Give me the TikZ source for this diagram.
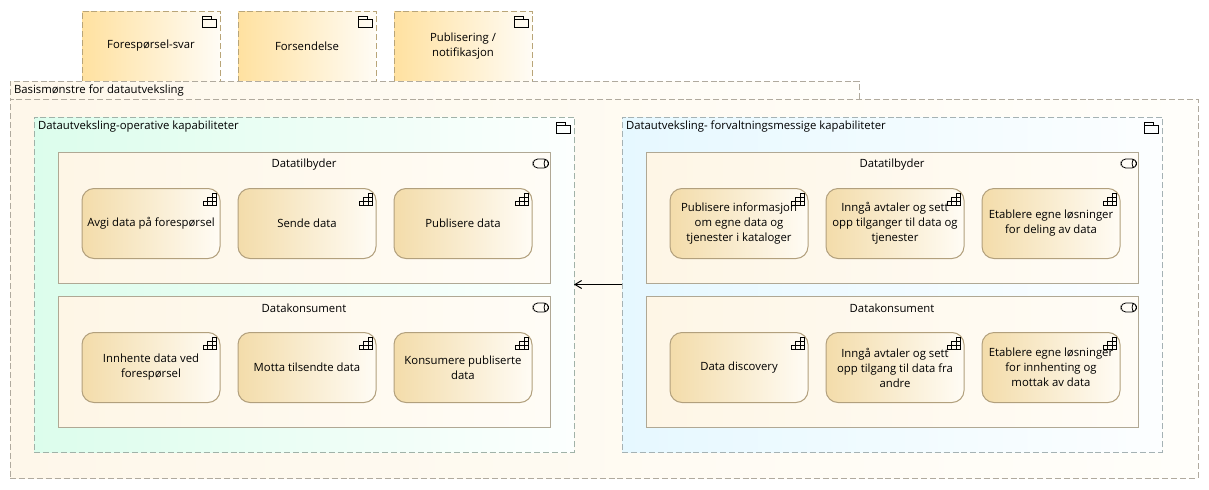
\documentclass[tikz,border=0pt]{standalone}
\usepackage{fontspec}
\setmainfont{Open Sans}
\usetikzlibrary{arrows.meta}

\definecolor{pkgleft}{RGB}{255,225,160}
\definecolor{pkgright}{RGB}{255,252,245}
\definecolor{pkgline}{RGB}{185,165,120}
\definecolor{capleft}{RGB}{243,220,170}
\definecolor{capright}{RGB}{255,252,245}
\definecolor{capline}{RGB}{178,160,125}
\definecolor{roleleft}{RGB}{254,246,230}
\definecolor{roleright}{RGB}{255,252,246}
\definecolor{roleline}{RGB}{176,168,148}
\definecolor{baseleft}{RGB}{254,247,234}
\definecolor{baseright}{RGB}{255,254,250}
\definecolor{baseline}{RGB}{176,170,158}
\definecolor{greenleft}{RGB}{220,253,236}
\definecolor{greenright}{RGB}{252,255,254}
\definecolor{greenline}{RGB}{160,178,168}
\definecolor{blueleft}{RGB}{230,248,255}
\definecolor{blueright}{RGB}{252,254,255}
\definecolor{blueline}{RGB}{165,178,180}

\tikzset{
  every node/.style={font=\fontsize{8.5}{11.2}\selectfont,inner sep=0pt,outer sep=0pt,align=center,text=black},
  every pic/.style={yscale=-1},
  dashline/.style={line width=0.75pt,dash pattern=on 4.5pt off 2.2pt},
  pkgbox/.style={dashline,draw=pkgline,left color=pkgleft,right color=pkgright,minimum width=103.5pt,minimum height=52.5pt},
  basebox/.style={dashline,draw=baseline,left color=baseleft,right color=baseright},
  greenbox/.style={dashline,draw=greenline,left color=greenleft,right color=greenright,minimum width=405pt,minimum height=251.25pt},
  bluebox/.style={dashline,draw=blueline,left color=blueleft,right color=blueright,minimum width=405pt,minimum height=251.25pt},
  rolebox/.style={line width=0.75pt,draw=roleline,left color=roleleft,right color=roleright,minimum width=369pt,minimum height=98.25pt},
  capbox/.style={line width=0.75pt,draw=capline,left color=capleft,right color=capright,rounded corners=9pt,minimum width=103.5pt,minimum height=52.5pt},
  title/.style={anchor=west},
  pics/foldericon/.style={code={
    \draw[line width=0.6pt] (-17.5,16) rectangle (-3.5,8.5);
    \draw[line width=0.6pt] (-17.5,8.5) -- (-17.5,5) -- (-9,5) -- (-9,8.5);
  }},
  pics/stairicon/.style={code={
    \draw[line width=0.6pt] (-17,17) -- (-4,17) -- (-4,5) -- (-8,5) -- (-8,9) -- (-12.5,9) -- (-12.5,13) -- (-17,13) -- cycle;
    \draw[line width=0.6pt] (-17,13) -- (-4,13) (-12.5,9) -- (-4,9) (-12.5,13) -- (-12.5,17) (-8,9) -- (-8,17);
  }},
  pics/roleicon/.style={code={
    \draw[line width=0.6pt,rounded corners=3.5pt] (-17,7) rectangle (-1.5,16);
    \draw[line width=0.6pt] (-4,7) .. controls (-6.5,9) and (-6.5,14) .. (-4,16);
  }},
}

\begin{document}
\begin{tikzpicture}[x=0.75pt,y=0.75pt,yscale=-1,xscale=1]
\useasboundingbox (0,0) rectangle (1209,489);

%Shape: Packages on top
\node (forespsvar) [pkgbox] at (151,46) {Forespørsel-svar};
\node (forsendelse) [pkgbox] at (307,46) {Forsendelse};
\node (publisering) [pkgbox] at (463,46) {Publisering /\\notifikasjon};
\pic at (forespsvar.north east) {foldericon};
\pic at (forsendelse.north east) {foldericon};
\pic at (publisering.north east) {foldericon};

%Shape: Outer group
\node (basistab) [basebox,minimum width=636.75pt,minimum height=13.5pt] at (434.5,90) {};
\node (basis) [basebox,minimum width=891pt,minimum height=284.25pt] at (604,288.5) {};
\node (basistitle) [title] at (14,90.5) {Basismønstre for datautveksling};

%Shape: Left group
\node (operativ) [greenbox] at (304,284.5) {};
\node (operativtitle) [title] at (38,126.5) {Datautveksling-operative kapabiliteter};
\pic at (operativ.north east) {foldericon};

\node (tilbyderA) [rolebox] at (304,217.5) {};
\node (tilbyderAtitle) at (304,164.5) {Datatilbyder};
\pic at (tilbyderA.north east) {roleicon};
\node (avgi) [capbox] at (151,223.5) {Avgi data på forespørsel};
\node (sende) [capbox] at (307,223.5) {Sende data};
\node (publisere) [capbox] at (463,223.5) {Publisere data};
\pic at (avgi.north east) {stairicon};
\pic at (sende.north east) {stairicon};
\pic at (publisere.north east) {stairicon};

\node (konsumentA) [rolebox] at (304,361.5) {};
\node (konsumentAtitle) at (304,308.5) {Datakonsument};
\pic at (konsumentA.north east) {roleicon};
\node (innhente) [capbox] at (151,367.5) {Innhente data ved\\forespørsel};
\node (motta) [capbox] at (307,367.5) {Motta tilsendte data};
\node (konsumere) [capbox] at (463,367.5) {Konsumere publiserte\\data};
\pic at (innhente.north east) {stairicon};
\pic at (motta.north east) {stairicon};
\pic at (konsumere.north east) {stairicon};

%Shape: Right group
\node (forvaltning) [bluebox] at (892,284.5) {};
\node (forvaltningtitle) [title] at (626,126.5) {Datautveksling- forvaltningsmessige kapabiliteter};
\pic at (forvaltning.north east) {foldericon};

\node (tilbyderB) [rolebox] at (892,217.5) {};
\node (tilbyderBtitle) at (892,164.5) {Datatilbyder};
\pic at (tilbyderB.north east) {roleicon};
\node (publinfo) [capbox] at (739,223.5) {Publisere informasjon\\om egne data og\\tjenester i kataloger};
\node (avtaler) [capbox] at (895,223.5) {Inngå avtaler og sett\\opp tilganger til data og\\tjenester};
\node (deling) [capbox] at (1051,223.5) {Etablere egne løsninger\\for deling av data};
\pic at (publinfo.north east) {stairicon};
\pic at (avtaler.north east) {stairicon};
\pic at (deling.north east) {stairicon};

\node (konsumentB) [rolebox] at (892,361.5) {};
\node (konsumentBtitle) at (892,308.5) {Datakonsument};
\pic at (konsumentB.north east) {roleicon};
\node (discovery) [capbox] at (739,367.5) {Data discovery};
\node (tilgang) [capbox] at (895,367.5) {Inngå avtaler og sett\\opp tilgang til data fra\\andre};
\node (innhenting) [capbox] at (1051,367.5) {Etablere egne løsninger\\for innhenting og\\mottak av data};
\pic at (discovery.north east) {stairicon};
\pic at (tilgang.north east) {stairicon};
\pic at (innhenting.north east) {stairicon};

%Shape: Arrow between groups
\draw [-{Straight Barb[length=5pt,width=6pt]},line width=0.75pt] (forvaltning.west) -- (operativ.east);

\end{tikzpicture}
\end{document}
